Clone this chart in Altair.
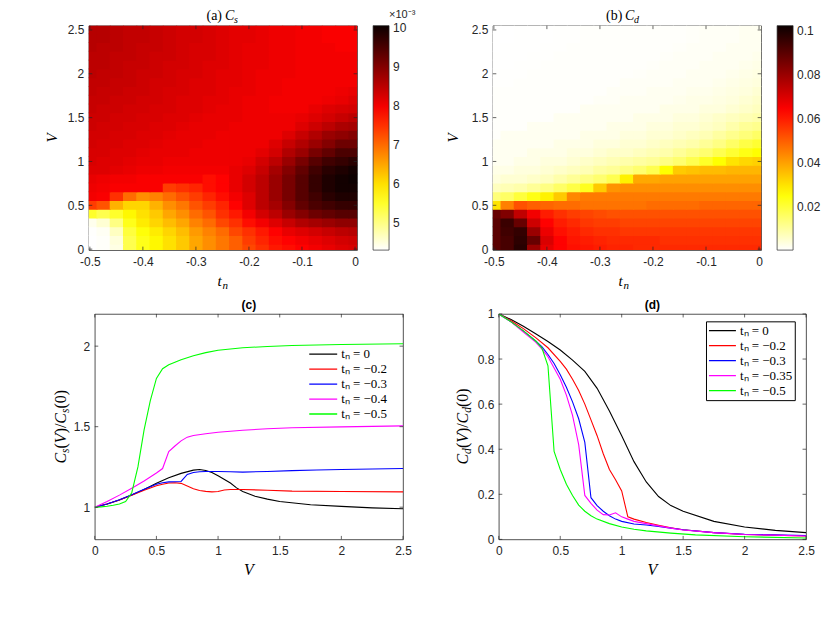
import altair as alt
import pandas as pd

SANS = "Liberation Sans"
SERIF = "Liberation Serif"
AX = "#262626"

# ---------------- heat-map grids ----------------
TN = [-0.5, -0.475, -0.45, -0.425, -0.4, -0.375, -0.35, -0.325, -0.3, -0.275, -0.25,
      -0.225, -0.2, -0.175, -0.15, -0.125, -0.1, -0.075, -0.05, -0.025, 0.0]
VG = [0.0, 0.1, 0.2, 0.3, 0.4, 0.5, 0.6, 0.7, 0.8, 0.9, 1.0, 1.1, 1.2, 1.3, 1.4, 1.5,
      1.6, 1.7, 1.8, 1.9, 2.0, 2.1, 2.2, 2.3, 2.4, 2.5]

# C_s (x 1e-3), one row per V value
CS = [
    [4.30, 4.33, 4.45, 5.30, 5.60, 5.80, 6.00, 6.20, 6.50, 6.70, 6.90, 7.10, 7.30, 7.50, 7.70, 7.80, 7.90, 8.00, 8.10, 8.20, 8.25],
    [4.30, 4.33, 4.50, 5.30, 5.60, 5.80, 6.00, 6.20, 6.50, 6.70, 6.90, 7.10, 7.40, 7.60, 7.80, 7.90, 8.00, 8.10, 8.20, 8.30, 8.35],
    [4.31, 4.36, 4.65, 5.40, 5.70, 5.90, 6.10, 6.30, 6.60, 6.80, 7.00, 7.30, 7.50, 7.70, 7.90, 8.10, 8.20, 8.30, 8.40, 8.50, 8.55],
    [4.40, 4.55, 5.00, 5.60, 5.90, 6.10, 6.30, 6.50, 6.80, 7.00, 7.30, 7.50, 7.80, 8.00, 8.20, 8.40, 8.60, 8.70, 8.80, 8.90, 8.90],
    [5.50, 5.30, 5.50, 5.80, 6.00, 6.20, 6.50, 6.70, 7.00, 7.20, 7.50, 7.70, 8.00, 8.30, 8.50, 8.80, 9.00, 9.20, 9.30, 9.40, 9.40],
    [7.40, 7.20, 6.40, 6.10, 6.10, 6.40, 6.70, 6.90, 7.20, 7.40, 7.60, 7.90, 8.20, 8.50, 8.70, 9.00, 9.30, 9.50, 9.60, 9.70, 9.70],
    [8.00, 7.95, 7.50, 7.00, 6.70, 6.80, 7.00, 7.20, 7.40, 7.60, 7.80, 8.00, 8.20, 8.50, 8.80, 9.10, 9.40, 9.60, 9.80, 9.90, 9.90],
    [8.05, 8.00, 7.95, 7.95, 7.95, 7.95, 7.40, 7.50, 7.60, 7.80, 7.90, 8.10, 8.30, 8.50, 8.80, 9.10, 9.40, 9.70, 9.90, 10.0, 10.0],
    [8.10, 8.05, 8.00, 8.00, 7.95, 7.95, 7.95, 7.95, 7.95, 7.80, 7.90, 8.10, 8.30, 8.50, 8.80, 9.10, 9.40, 9.70, 9.90, 10.0, 10.05],
    [8.20, 8.20, 8.15, 8.10, 8.05, 8.05, 8.00, 8.00, 8.00, 8.00, 8.00, 8.10, 8.20, 8.40, 8.70, 9.00, 9.30, 9.60, 9.80, 9.90, 10.0],
    [8.25, 8.20, 8.20, 8.15, 8.10, 8.10, 8.05, 8.05, 8.05, 8.05, 8.05, 8.05, 8.10, 8.30, 8.50, 8.80, 9.10, 9.40, 9.60, 9.70, 9.80],
    [8.25, 8.25, 8.20, 8.20, 8.15, 8.10, 8.10, 8.10, 8.05, 8.05, 8.05, 8.05, 8.05, 8.15, 8.30, 8.60, 8.80, 9.10, 9.30, 9.50, 9.50],
    [8.30, 8.25, 8.25, 8.20, 8.20, 8.15, 8.10, 8.10, 8.10, 8.05, 8.05, 8.05, 8.05, 8.05, 8.20, 8.40, 8.60, 8.80, 9.00, 9.20, 9.20],
    [8.30, 8.30, 8.25, 8.25, 8.20, 8.20, 8.15, 8.10, 8.10, 8.10, 8.05, 8.05, 8.05, 8.05, 8.05, 8.20, 8.40, 8.60, 8.80, 8.90, 9.00],
    [8.35, 8.30, 8.30, 8.25, 8.25, 8.20, 8.20, 8.15, 8.10, 8.10, 8.10, 8.05, 8.05, 8.05, 8.05, 8.05, 8.20, 8.35, 8.50, 8.65, 8.70],
    [8.35, 8.35, 8.30, 8.30, 8.25, 8.25, 8.20, 8.20, 8.15, 8.10, 8.10, 8.10, 8.05, 8.05, 8.05, 8.05, 8.10, 8.20, 8.30, 8.40, 8.50],
    [8.40, 8.35, 8.35, 8.30, 8.30, 8.25, 8.25, 8.20, 8.20, 8.15, 8.10, 8.10, 8.05, 8.05, 8.00, 8.00, 8.00, 8.10, 8.20, 8.25, 8.30],
    [8.40, 8.40, 8.35, 8.35, 8.30, 8.30, 8.25, 8.20, 8.20, 8.15, 8.15, 8.10, 8.05, 8.05, 8.00, 8.00, 8.00, 8.00, 8.05, 8.10, 8.20],
    [8.45, 8.40, 8.40, 8.35, 8.35, 8.30, 8.25, 8.25, 8.20, 8.20, 8.15, 8.10, 8.10, 8.05, 8.05, 8.00, 8.00, 8.00, 8.00, 8.05, 8.10],
    [8.45, 8.45, 8.40, 8.40, 8.35, 8.30, 8.30, 8.25, 8.20, 8.20, 8.15, 8.15, 8.10, 8.05, 8.05, 8.00, 8.00, 8.00, 8.00, 8.00, 8.00],
    [8.50, 8.45, 8.45, 8.40, 8.35, 8.35, 8.30, 8.25, 8.25, 8.20, 8.15, 8.15, 8.10, 8.05, 8.05, 8.05, 8.00, 8.00, 8.00, 8.00, 8.00],
    [8.50, 8.50, 8.45, 8.40, 8.40, 8.35, 8.30, 8.30, 8.25, 8.20, 8.20, 8.15, 8.10, 8.10, 8.05, 8.05, 8.00, 8.00, 8.00, 8.00, 8.00],
    [8.50, 8.50, 8.45, 8.45, 8.40, 8.35, 8.35, 8.30, 8.25, 8.25, 8.20, 8.15, 8.10, 8.10, 8.05, 8.05, 8.00, 8.00, 8.00, 8.00, 8.00],
    [8.55, 8.50, 8.50, 8.45, 8.40, 8.40, 8.35, 8.30, 8.25, 8.25, 8.20, 8.15, 8.10, 8.10, 8.05, 8.05, 8.00, 8.00, 8.00, 7.95, 7.95],
    [8.55, 8.55, 8.50, 8.45, 8.45, 8.40, 8.35, 8.30, 8.30, 8.25, 8.20, 8.15, 8.15, 8.10, 8.05, 8.05, 8.00, 8.00, 7.95, 7.95, 7.95],
    [8.55, 8.55, 8.50, 8.45, 8.45, 8.40, 8.35, 8.30, 8.30, 8.25, 8.20, 8.15, 8.15, 8.10, 8.05, 8.05, 8.00, 8.00, 7.95, 7.95, 7.95],
]

# C_d, one row per V value
CD = [
    [0.090, 0.093, 0.098, 0.080, 0.068, 0.064, 0.062, 0.061, 0.060, 0.059, 0.059, 0.058, 0.058, 0.058, 0.058, 0.058, 0.058, 0.058, 0.058, 0.058, 0.058],
    [0.090, 0.093, 0.097, 0.088, 0.070, 0.064, 0.061, 0.060, 0.059, 0.058, 0.058, 0.058, 0.058, 0.057, 0.057, 0.057, 0.057, 0.057, 0.057, 0.057, 0.057],
    [0.090, 0.094, 0.096, 0.080, 0.067, 0.062, 0.060, 0.058, 0.057, 0.057, 0.056, 0.056, 0.056, 0.056, 0.056, 0.056, 0.056, 0.056, 0.056, 0.056, 0.056],
    [0.090, 0.095, 0.088, 0.072, 0.064, 0.060, 0.058, 0.056, 0.055, 0.055, 0.054, 0.054, 0.054, 0.054, 0.054, 0.054, 0.054, 0.054, 0.054, 0.054, 0.054],
    [0.088, 0.084, 0.074, 0.066, 0.060, 0.057, 0.055, 0.054, 0.053, 0.052, 0.052, 0.052, 0.052, 0.052, 0.052, 0.052, 0.052, 0.052, 0.052, 0.052, 0.052],
    [0.030, 0.045, 0.052, 0.050, 0.049, 0.048, 0.048, 0.047, 0.047, 0.047, 0.047, 0.047, 0.048, 0.048, 0.048, 0.048, 0.049, 0.049, 0.049, 0.049, 0.049],
    [0.014, 0.016, 0.020, 0.024, 0.028, 0.034, 0.044, 0.046, 0.046, 0.046, 0.046, 0.046, 0.046, 0.046, 0.046, 0.046, 0.046, 0.046, 0.046, 0.046, 0.046],
    [0.007, 0.008, 0.009, 0.011, 0.013, 0.016, 0.019, 0.023, 0.034, 0.042, 0.043, 0.043, 0.043, 0.043, 0.043, 0.043, 0.043, 0.043, 0.043, 0.043, 0.043],
    [0.004, 0.005, 0.005, 0.006, 0.007, 0.009, 0.011, 0.013, 0.015, 0.018, 0.028, 0.039, 0.039, 0.040, 0.040, 0.040, 0.040, 0.040, 0.040, 0.040, 0.040],
    [0.003, 0.003, 0.004, 0.004, 0.005, 0.006, 0.007, 0.008, 0.010, 0.011, 0.013, 0.015, 0.018, 0.026, 0.034, 0.035, 0.036, 0.036, 0.037, 0.037, 0.037],
    [0.002, 0.002, 0.003, 0.003, 0.004, 0.004, 0.005, 0.006, 0.007, 0.008, 0.009, 0.010, 0.011, 0.013, 0.015, 0.018, 0.022, 0.026, 0.030, 0.032, 0.033],
    [0.002, 0.002, 0.002, 0.003, 0.003, 0.003, 0.004, 0.004, 0.005, 0.006, 0.006, 0.007, 0.008, 0.009, 0.011, 0.013, 0.015, 0.018, 0.021, 0.024, 0.026],
    [0.002, 0.002, 0.002, 0.002, 0.002, 0.003, 0.003, 0.003, 0.004, 0.004, 0.005, 0.005, 0.006, 0.007, 0.008, 0.009, 0.011, 0.013, 0.016, 0.019, 0.021],
    [0.001, 0.002, 0.002, 0.002, 0.002, 0.002, 0.002, 0.003, 0.003, 0.003, 0.004, 0.004, 0.005, 0.005, 0.006, 0.007, 0.008, 0.010, 0.012, 0.014, 0.016],
    [0.001, 0.001, 0.001, 0.002, 0.002, 0.002, 0.002, 0.002, 0.002, 0.003, 0.003, 0.003, 0.004, 0.004, 0.005, 0.005, 0.006, 0.007, 0.009, 0.011, 0.012],
    [0.001, 0.001, 0.001, 0.001, 0.001, 0.002, 0.002, 0.002, 0.002, 0.002, 0.002, 0.003, 0.003, 0.003, 0.004, 0.004, 0.005, 0.006, 0.007, 0.008, 0.009],
    [0.001, 0.001, 0.001, 0.001, 0.001, 0.001, 0.001, 0.002, 0.002, 0.002, 0.002, 0.002, 0.002, 0.003, 0.003, 0.003, 0.004, 0.004, 0.005, 0.006, 0.007],
    [0.001, 0.001, 0.001, 0.001, 0.001, 0.001, 0.001, 0.001, 0.0015, 0.0015, 0.002, 0.002, 0.002, 0.002, 0.0025, 0.003, 0.003, 0.0035, 0.004, 0.005, 0.006],
    [0.001, 0.001, 0.001, 0.001, 0.001, 0.001, 0.001, 0.001, 0.001, 0.0015, 0.0015, 0.0015, 0.002, 0.002, 0.002, 0.0025, 0.0025, 0.003, 0.0035, 0.004, 0.005],
    [0.0008, 0.0008, 0.001, 0.001, 0.001, 0.001, 0.001, 0.001, 0.001, 0.001, 0.0015, 0.0015, 0.0015, 0.0015, 0.002, 0.002, 0.002, 0.0025, 0.003, 0.0035, 0.004],
    [0.0008, 0.0008, 0.0008, 0.001, 0.001, 0.001, 0.001, 0.001, 0.001, 0.001, 0.001, 0.0012, 0.0015, 0.0015, 0.0015, 0.002, 0.002, 0.002, 0.0025, 0.003, 0.0035],
    [0.0007, 0.0007, 0.0008, 0.0008, 0.001, 0.001, 0.001, 0.001, 0.001, 0.001, 0.001, 0.001, 0.0012, 0.0015, 0.0015, 0.0015, 0.002, 0.002, 0.002, 0.0025, 0.003],
    [0.0007, 0.0007, 0.0007, 0.0008, 0.0008, 0.001, 0.001, 0.001, 0.001, 0.001, 0.001, 0.001, 0.001, 0.0012, 0.0015, 0.0015, 0.0015, 0.002, 0.002, 0.002, 0.0025],
    [0.0006, 0.0007, 0.0007, 0.0007, 0.0008, 0.0008, 0.001, 0.001, 0.001, 0.001, 0.001, 0.001, 0.001, 0.001, 0.0012, 0.0015, 0.0015, 0.0015, 0.002, 0.002, 0.002],
    [0.0006, 0.0006, 0.0007, 0.0007, 0.0007, 0.0008, 0.0008, 0.001, 0.001, 0.001, 0.001, 0.001, 0.001, 0.001, 0.001, 0.0012, 0.0015, 0.0015, 0.0015, 0.002, 0.002],
    [0.0006, 0.0006, 0.0007, 0.0007, 0.0007, 0.0008, 0.0008, 0.001, 0.001, 0.001, 0.001, 0.001, 0.001, 0.001, 0.001, 0.0012, 0.0015, 0.0015, 0.0015, 0.002, 0.002],
]

# ---------------- tick labels ----------------
TN_TICKS = [-0.5, -0.4, -0.3, -0.2, -0.1, 0.0]
V_TICKS = [0, 0.5, 1, 1.5, 2, 2.5]
CS_BAR = [5, 6, 7, 8, 9, 10]
CD_BAR = [0.02, 0.04, 0.06, 0.08, 0.1]
CSR_TICKS = [1, 1.5, 2]
CDR_TICKS = [0, 0.2, 0.4, 0.6, 0.8, 1]

# colour-map stops (reversed "hot")
CS_STOPS = [4.30, 5.7425, 7.90625, 10.07]
CD_STOPS = [0.0006, 0.026025, 0.0641875, 0.1023]
HOT = ["#ffffff", "#ffff00", "#ff0000", "#0b0000"]

# ---------------- line series ----------------
SER_C = ["tₙ = 0", "tₙ = −0.2", "tₙ = −0.3", "tₙ = −0.4", "tₙ = −0.5"]
SER_D = ["tₙ = 0", "tₙ = −0.2", "tₙ = −0.3", "tₙ = −0.35", "tₙ = −0.5"]
COLORS = ["#000000", "#ff0000", "#0000ff", "#ff00ff", "#00ff00"]

CS0_V = [0, 0.1, 0.2, 0.3, 0.4, 0.5, 0.6, 0.7, 0.8, 0.85, 0.9, 0.95, 1.0, 1.1, 1.15, 1.2, 1.3, 1.4, 1.5, 1.75, 2.0, 2.25, 2.5]
CS0_Y = [1.0, 1.02, 1.045, 1.075, 1.11, 1.148, 1.183, 1.21, 1.23, 1.234, 1.228, 1.215, 1.195, 1.15, 1.12, 1.098, 1.068, 1.05, 1.035, 1.015, 1.005, 0.996, 0.99]
CS1_V = [0, 0.1, 0.2, 0.3, 0.4, 0.5, 0.55, 0.6, 0.65, 0.7, 0.75, 0.8, 0.85, 0.9, 0.95, 1.0, 1.05, 1.1, 1.2, 1.4, 1.6, 2.0, 2.5]
CS1_Y = [1.0, 1.02, 1.045, 1.075, 1.105, 1.133, 1.143, 1.15, 1.152, 1.148, 1.132, 1.115, 1.104, 1.098, 1.095, 1.097, 1.107, 1.11, 1.11, 1.105, 1.10, 1.097, 1.095]
CS2_V = [0, 0.1, 0.2, 0.3, 0.4, 0.5, 0.55, 0.6, 0.65, 0.7, 0.75, 0.8, 0.85, 0.9, 1.0, 1.1, 1.2, 1.4, 1.6, 1.8, 2.0, 2.25, 2.5]
CS2_Y = [1.0, 1.02, 1.046, 1.078, 1.112, 1.142, 1.152, 1.157, 1.158, 1.16, 1.203, 1.215, 1.22, 1.222, 1.222, 1.22, 1.218, 1.222, 1.227, 1.231, 1.234, 1.237, 1.24]
CS3_V = [0, 0.1, 0.2, 0.3, 0.4, 0.5, 0.55, 0.6, 0.65, 0.7, 0.75, 0.8, 0.9, 1.0, 1.2, 1.4, 1.6, 2.0, 2.5]
CS3_Y = [1.0, 1.035, 1.075, 1.118, 1.163, 1.212, 1.24, 1.345, 1.38, 1.412, 1.435, 1.445, 1.456, 1.465, 1.478, 1.487, 1.493, 1.499, 1.505]
CS4_V = [0, 0.05, 0.1, 0.15, 0.2, 0.25, 0.3, 0.35, 0.4, 0.45, 0.5, 0.55, 0.6, 0.65, 0.7, 0.8, 0.9, 1.0, 1.2, 1.4, 1.6, 2.0, 2.5]
CS4_Y = [1.0, 1.002, 1.006, 1.012, 1.02, 1.035, 1.09, 1.25, 1.48, 1.66, 1.80, 1.86, 1.885, 1.90, 1.915, 1.94, 1.96, 1.975, 1.99, 1.998, 2.004, 2.01, 2.015]

CD0_V = [0, 0.1, 0.2, 0.3, 0.4, 0.5, 0.6, 0.7, 0.8, 0.9, 1.0, 1.1, 1.2, 1.3, 1.4, 1.5, 1.75, 2.0, 2.25, 2.5]
CD0_Y = [1.0, 0.975, 0.945, 0.912, 0.878, 0.84, 0.795, 0.745, 0.67, 0.57, 0.46, 0.345, 0.255, 0.19, 0.15, 0.125, 0.08, 0.055, 0.04, 0.03]
CD1_V = [0, 0.1, 0.2, 0.3, 0.4, 0.5, 0.55, 0.6, 0.65, 0.7, 0.75, 0.8, 0.85, 0.9, 0.95, 1.0, 1.05, 1.1, 1.2, 1.3, 1.4, 1.5, 1.75, 2.0, 2.5]
CD1_Y = [1.0, 0.97, 0.935, 0.895, 0.85, 0.79, 0.755, 0.71, 0.66, 0.6, 0.53, 0.46, 0.38, 0.31, 0.265, 0.215, 0.1, 0.09, 0.075, 0.063, 0.052, 0.043, 0.03, 0.022, 0.015]
CD2_V = [0, 0.1, 0.2, 0.3, 0.35, 0.4, 0.45, 0.5, 0.55, 0.6, 0.65, 0.7, 0.75, 0.8, 0.85, 0.9, 0.95, 1.0, 1.1, 1.2, 1.3, 1.4, 1.5, 1.75, 2.0, 2.5]
CD2_Y = [1.0, 0.965, 0.925, 0.88, 0.855, 0.82, 0.78, 0.73, 0.675, 0.61, 0.535, 0.43, 0.185, 0.15, 0.125, 0.105, 0.09, 0.08, 0.068, 0.064, 0.057, 0.05, 0.043, 0.03, 0.023, 0.017]
CD3_V = [0, 0.1, 0.2, 0.3, 0.35, 0.4, 0.45, 0.5, 0.55, 0.6, 0.65, 0.7, 0.75, 0.8, 0.85, 0.9, 0.95, 1.0, 1.05, 1.1, 1.2, 1.3, 1.4, 1.5, 1.75, 2.0, 2.5]
CD3_Y = [1.0, 0.965, 0.92, 0.875, 0.845, 0.81, 0.76, 0.71, 0.64, 0.55, 0.42, 0.195, 0.16, 0.13, 0.11, 0.108, 0.118, 0.1, 0.09, 0.08, 0.07, 0.06, 0.05, 0.042, 0.03, 0.022, 0.015]
CD4_V = [0, 0.1, 0.2, 0.3, 0.35, 0.4, 0.45, 0.5, 0.55, 0.6, 0.65, 0.7, 0.75, 0.8, 0.9, 1.0, 1.1, 1.2, 1.4, 1.6, 2.0, 2.5]
CD4_Y = [1.0, 0.965, 0.925, 0.88, 0.85, 0.77, 0.39, 0.31, 0.245, 0.195, 0.152, 0.125, 0.105, 0.09, 0.07, 0.055, 0.045, 0.038, 0.028, 0.02, 0.012, 0.006]

ONE = pd.DataFrame({"k": [0]})


def txt(s, x, y, size=13, font=SERIF, style="normal", weight="normal",
        angle=0, align="left", color="black"):
    return alt.Chart(ONE).mark_text(
        text=s, fontSize=size, font=font, fontStyle=style, fontWeight=weight,
        angle=angle, align=align, baseline="alphabetic", color=color,
    ).encode(x=alt.value(x), y=alt.value(y))


def rot_label(pieces, x0, y0):
    out = []
    off = 0.0
    for s, w, shift, size, style in pieces:
        out.append(txt(s, x0 + shift, y0 - off, size=size, style=style, angle=270))
        off += w
    return out


def inner_ticks(xvals, yvals, xs, ys, xax, yax, W, H, L=3.5):
    dx = pd.DataFrame({"v": xvals})
    dy = pd.DataFrame({"v": yvals})
    kw = dict(color=AX, strokeWidth=0.7)
    xe = alt.X("v:Q", scale=xs, axis=xax, title=None)
    ye = alt.Y("v:Q", scale=ys, axis=yax, title=None)
    return [
        alt.Chart(dx).mark_rule(**kw).encode(x=xe, y=alt.value(H), y2=alt.value(H - L)),
        alt.Chart(dx).mark_rule(**kw).encode(x=xe, y=alt.value(0), y2=alt.value(L)),
        alt.Chart(dy).mark_rule(**kw).encode(y=ye, x=alt.value(0), x2=alt.value(L)),
        alt.Chart(dy).mark_rule(**kw).encode(y=ye, x=alt.value(W), x2=alt.value(W - L)),
    ]


def heat(Z, stops, bar_vals, bar_fmt, W, H, extra):
    rows = []
    for i, v in enumerate(VG):
        for j, t in enumerate(TN):
            # cells overlap the next cell by ~1px so no hairline seams show
            rows.append({"t0": t - 0.0125, "t1": t + 0.0145,
                         "v0": v - 0.05, "v1": v + 0.062, "z": Z[i][j]})
    df = pd.DataFrame(rows)
    xs = alt.Scale(domain=[-0.502, 0.004], nice=False, zero=False)
    ys = alt.Scale(domain=[-0.011, 2.549], nice=False, zero=False)
    cs = alt.Scale(domain=stops, range=HOT, interpolate="rgb")
    xax = alt.Axis(values=TN_TICKS, labelPadding=6, labelFlush=False,
                   labelExpr="replace(format(datum.value, '.1~f'), '\u2212', '-')")
    yax = alt.Axis(values=V_TICKS, format="~g", labelPadding=5, labelFlush=False)
    rect = alt.Chart(df).mark_rect(clip=True).encode(
        x=alt.X("t0:Q", scale=xs, title=None, axis=xax),
        x2="t1:Q",
        y=alt.Y("v0:Q", scale=ys, title=None, axis=yax),
        y2="v1:Q",
        color=alt.Color("z:Q", scale=cs, legend=alt.Legend(
            type="gradient", orient="none", legendX=W + 16, legendY=0,
            direction="vertical", gradientLength=H, gradientThickness=16,
            values=bar_vals, format=bar_fmt,
            labelFont=SANS, labelFontSize=12, labelColor=AX, labelOffset=4,
            labelOverlap=False, gradientStrokeColor=AX, gradientStrokeWidth=0.7,
            title=None)),
    )
    return alt.layer(rect, *inner_ticks(TN_TICKS, V_TICKS, xs, ys, xax, yax, W, H),
                     *extra).properties(width=W, height=H)


def lines(series, labels, ydom, yticks, legend, W, H, extra):
    frames = []
    for lab, (vs, ys_) in zip(labels, series):
        frames.append(pd.DataFrame({"V": vs, "y": ys_, "s": lab}))
    df = pd.concat(frames, ignore_index=True)
    xs = alt.Scale(domain=[0, 2.5], nice=False, zero=False)
    ys = alt.Scale(domain=ydom, nice=False, zero=False)
    xax = alt.Axis(values=V_TICKS, format="~g", labelPadding=6, labelFlush=False)
    yax = alt.Axis(values=yticks, format="~g", labelPadding=5, labelFlush=False)
    ln = alt.Chart(df).mark_line(strokeWidth=1.1, clip=True).encode(
        x=alt.X("V:Q", scale=xs, title=None, axis=xax),
        y=alt.Y("y:Q", scale=ys, title=None, axis=yax),
        color=alt.Color("s:N", scale=alt.Scale(domain=labels, range=COLORS), legend=legend),
        detail="s:N",
    )
    return alt.layer(ln, *inner_ticks(V_TICKS, yticks, xs, ys, xax, yax, W, H),
                     *extra).properties(width=W, height=H)


WH, HH = 269, 225
WL, HL = 309, 226

# ---- panel (a)
extra_a = [
    txt("(a)", 118, -6, size=14),
    txt("C", 136.5, -6, size=14, style="italic"),
    txt("s", 145.5, -3, size=10, style="italic"),
    txt("t", 129, HH + 36, size=15, style="italic"),
    txt("n", 134, HH + 38.5, size=11, style="italic"),
    txt("V", -32, HH / 2, size=15, style="italic", angle=270, align="center"),
    txt("×10⁻³", WH + 32, -8, size=11, font=SANS, color=AX),
]
pa = heat(CS, CS_STOPS, CS_BAR, ".0f", WH, HH, extra_a)

# ---- panel (b)
extra_b = [
    txt("(b)", 113.5, -6, size=14),
    txt("C", 132.5, -6, size=14, style="italic"),
    txt("d", 141.5, -3, size=10, style="italic"),
    txt("t", 126, HH + 36, size=15, style="italic"),
    txt("n", 131, HH + 38.5, size=11, style="italic"),
    txt("V", -35, HH / 2, size=15, style="italic", angle=270, align="center"),
]
pb = heat(CD, CD_STOPS, CD_BAR, "~g", WH, HH, extra_b)

# ---- panel (c)
lab_c = [("C", 10.7, 0, 16, "italic"), ("s", 4.5, 3.5, 11.5, "italic"),
         ("(", 5.3, 0, 16, "normal"), ("V", 9.8, 0, 16, "italic"),
         (")", 5.3, 0, 16, "normal"), ("/", 4.4, 0, 16, "normal"),
         ("C", 10.7, 0, 16, "italic"), ("s", 4.5, 3.5, 11.5, "italic"),
         ("(", 5.3, 0, 16, "normal"), ("0", 8.0, 0, 16, "normal"),
         (")", 5.3, 0, 16, "normal")]
extra_c = [txt("(c)", WL / 2, -5, size=12, font=SANS, weight="bold", align="center"),
           txt("V", WL / 2, HL + 36, size=16, style="italic", align="center")]
extra_c += rot_label(lab_c, -29, HL / 2 + 37)
leg_c = alt.Legend(orient="none", legendX=214, legendY=32.8, title=None,
                   symbolType="stroke", symbolSize=784, symbolStrokeWidth=1.3,
                   clipHeight=15, rowPadding=0, labelFont=SERIF, labelFontSize=13,
                   labelColor="black", labelOffset=3, padding=0)
pc = lines([(CS0_V, CS0_Y), (CS1_V, CS1_Y), (CS2_V, CS2_Y), (CS3_V, CS3_Y), (CS4_V, CS4_Y)],
           SER_C, [0.8, 2.2], CSR_TICKS, leg_c, WL, HL, extra_c)

# ---- panel (d)
lab_d = [("C", 10.7, 0, 16, "italic"), ("d", 5.8, 3.5, 11.5, "italic"),
         ("(", 5.3, 0, 16, "normal"), ("V", 9.8, 0, 16, "italic"),
         (")", 5.3, 0, 16, "normal"), ("/", 4.4, 0, 16, "normal"),
         ("C", 10.7, 0, 16, "italic"), ("d", 5.8, 3.5, 11.5, "italic"),
         ("(", 5.3, 0, 16, "normal"), ("0", 8.0, 0, 16, "normal"),
         (")", 5.3, 0, 16, "normal")]
extra_d = [txt("(d)", 308 / 2, -5, size=12, font=SANS, weight="bold", align="center"),
           txt("V", 308 / 2, HL + 36, size=16, style="italic", align="center")]
extra_d += rot_label(lab_d, -31, HL / 2 + 38)
leg_d = alt.Legend(orient="none", legendX=207.7, legendY=7.4, title=None,
                   symbolType="stroke", symbolSize=729, symbolStrokeWidth=1.3,
                   clipHeight=14.8, rowPadding=0, labelFont=SERIF, labelFontSize=13,
                   labelColor="black", labelOffset=3, padding=2,
                   strokeColor="black", fillColor="white")
pd_ = lines([(CD0_V, CD0_Y), (CD1_V, CD1_Y), (CD2_V, CD2_Y), (CD3_V, CD3_Y), (CD4_V, CD4_Y)],
            SER_D, [0, 1], CDR_TICKS, leg_d, 308, HL, extra_d)

spacer = alt.Chart(ONE).mark_point(opacity=0).encode(
    x=alt.value(0), y=alt.value(0)).properties(
    width=6, height=10, view=alt.ViewBackground(strokeOpacity=0))


def indep(c):
    return c.resolve_scale(color="independent", x="independent",
                           y="independent").resolve_legend(color="independent")


top = indep(alt.hconcat(pa, pb, spacing=136, bounds="flush"))
inner = indep(alt.hconcat(pc, pd_, spacing=96, bounds="flush"))
bottom = indep(alt.hconcat(spacer, inner, spacing=0, bounds="flush"))

chart = indep(alt.vconcat(top, bottom, spacing=7)).properties(
    padding={"left": 44, "top": 7, "right": 5, "bottom": 5},
    background="white",
).configure_view(
    stroke=AX, strokeWidth=0.8,
).configure_axis(
    labelFont=SANS, labelFontSize=12, labelColor=AX, ticks=False, tickSize=0,
    domain=False, grid=False, labelFlush=False,
)

chart.save("out.html", embed_options={"renderer": "svg", "actions": False})
